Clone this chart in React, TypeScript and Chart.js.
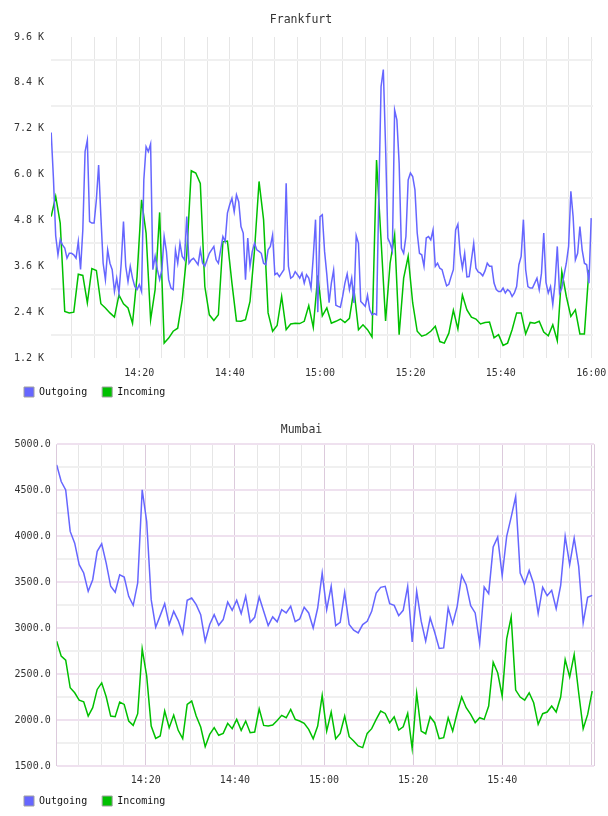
import React, { useEffect, useRef } from 'react';
import { Chart, registerables } from 'chart.js';

Chart.register(...registerables);

const FONT_FAMILY = "'DejaVu Sans Mono', monospace";
const BLUE = '#6666ff';
const GREEN = '#00c000';

// ---------- Frankfurt (minutes after 14:00) ----------
const frankfurtTitle = 'Frankfurt';
const frankfurtStartMin = 0.5;
const frankfurtOutgoingStepMin = 0.5;
const frankfurtIncomingStepMin = 1;
const frankfurtOutgoing = [
  7100, 5900, 4400, 3900, 4300, 4160, 4080, 3810, 3940, 3940,
  3900, 3810, 4250, 3520, 4550, 6600, 6900, 4770, 4730, 4730,
  5340, 6250, 4900, 3680, 3250, 4030, 3680, 3510, 2940, 3290,
  2900, 3680, 4770, 3600, 3200, 3600, 3290, 3070, 2990, 3120,
  2940, 5860, 6730, 6600, 6800, 3510, 3860, 3510, 3250, 3510,
  4380, 3990, 3250, 3030, 2990, 4030, 3680, 4200, 3860, 3770,
  4900, 3680, 3770, 3810, 3730, 3640, 4030, 3680, 3600, 3770,
  3940, 4030, 4120, 3770, 3680, 4030, 4380, 4250, 4990, 5210,
  5380, 5030, 5470, 5290, 4640, 4470, 3250, 4340, 3600, 3990,
  4200, 4030, 3990, 3940, 3680, 3640, 4030, 4120, 4420, 3380,
  3420, 3330, 3420, 3510, 5770, 3600, 3290, 3330, 3460, 3380,
  3290, 3420, 3160, 3380, 3290, 3030, 3860, 4820, 2400, 4900,
  4950, 3990, 3380, 2650, 3160, 3500, 2580, 2550, 2530, 2810,
  3160, 3400, 2990, 3290, 2640, 4400, 4200, 2680, 2620, 2550,
  2840, 2460, 2330, 2360, 2330, 5430, 8300, 8750, 6730, 4340,
  4200, 4000, 7690, 7430, 6300, 4070, 3940, 4380, 5860, 6040,
  5950, 5600, 4470, 3940, 3900, 3600, 4340, 4380, 4290, 4550,
  3600, 3680, 3550, 3510, 3290, 3090, 3130, 3330, 3510, 4550,
  4700, 3940, 3550, 3940, 3320, 3330, 3770, 4200, 3550, 3450,
  3420, 3350, 3480, 3680, 3600, 3600, 3160, 2990, 2940, 2940,
  3030, 2900, 2990, 2940, 2810, 2900, 3070, 3640, 3860, 4820,
  3510, 3070, 3030, 3030, 3160, 3290, 2990, 3420, 4470, 3180,
  2900, 3070, 2600, 3160, 4120, 2900, 3030, 3380, 3680, 4120,
  5560, 4900, 3770, 3940, 4640, 4030, 3680, 3640, 3160, 4860,
];
const frankfurtIncoming = [
  4900, 5430, 4730, 2420, 2380, 2400, 3390, 3360, 2640, 3540,
  3490, 2620, 2510, 2380, 2270, 2850, 2620, 2510, 2110, 3330,
  5340, 4470, 2200, 2990, 5010, 1590, 1720, 1900, 1980, 2720,
  3900, 6100, 6040, 5770, 3070, 2330, 2180, 2330, 4240, 4260,
  3160, 2170, 2160, 2200, 2680, 4030, 5820, 4820, 2380, 1900,
  2050, 2810, 1940, 2090, 2110, 2100, 2160, 2570, 2000, 3360,
  2300, 2510, 2110, 2160, 2220, 2130, 2240, 2990, 1940, 2070,
  1940, 1750, 6380, 4290, 2170, 3680, 4420, 1810, 3290, 3860,
  2640, 1900, 1770, 1810, 1900, 2030, 1630, 1590, 1850, 2450,
  1960, 2850, 2460, 2270, 2220, 2090, 2130, 2140, 1730, 1810,
  1530, 1590, 1940, 2380, 2380, 1830, 2130, 2110, 2160, 1880,
  1780, 2070, 1650, 3460, 2810, 2290, 2460, 1830, 1830, 3510,
];
const frankfurtXLabels = ['14:20', '14:40', '15:00', '15:20', '15:40', '16:00'];
const frankfurtYLabelValues = [1200, 2400, 3600, 4800, 6000, 7200, 8400, 9600];

// ---------- Mumbai ----------
const mumbaiTitle = 'Mumbai';
const mumbaiStartMin = 0;
const mumbaiStepMin = 1.01;
const mumbaiOutgoing = [
  4776, 4595, 4504, 4052, 3925, 3690, 3600, 3400, 3527, 3835,
  3918, 3708, 3455, 3390, 3581, 3556, 3346, 3248, 3491, 4504,
  4160, 3310, 3010, 3136, 3266, 3039, 3183, 3082, 2941, 3303,
  3328, 3256, 3147, 2858, 3039, 3147, 3031, 3093, 3284, 3194,
  3303, 3158, 3346, 3064, 3118, 3339, 3183, 3028, 3122, 3068,
  3201, 3165, 3237, 3071, 3100, 3227, 3165, 3002, 3219, 3600,
  3201, 3455, 3028, 3064, 3390, 3039, 2977, 2948, 3039, 3075,
  3183, 3382, 3444, 3455, 3266, 3248, 3136, 3194, 3455, 2850,
  3400, 3075, 2858, 3111, 2955, 2778, 2785, 3219, 3046, 3237,
  3574, 3473, 3245, 3165, 2832, 3447, 3375, 3882, 3990, 3570,
  3998, 4207, 4432, 3600, 3484, 3628, 3484, 3158, 3444, 3353,
  3411, 3212, 3466, 3998, 3690, 3979, 3672, 3057, 3335, 3357,
];
const mumbaiIncoming = [
  2858, 2695, 2651, 2351, 2297, 2217, 2199, 2043, 2134, 2333,
  2405, 2253, 2043, 2036, 2196, 2170, 1989, 1942, 2069, 2774,
  2478, 1935, 1801, 1826, 2098, 1917, 2054, 1888, 1797, 2170,
  2206, 2043, 1924, 1710, 1844, 1917, 1834, 1855, 1964, 1906,
  2007, 1888, 1989, 1862, 1870, 2123, 1942, 1935, 1946, 1996,
  2051, 2025, 2116, 2007, 1989, 1964, 1899, 1797, 1935, 2268,
  1880, 2087, 1797, 1855, 2043, 1819, 1772, 1718, 1700, 1855,
  1906, 2007, 2098, 2072, 1971, 2036, 1891, 1927, 2072, 1689,
  2289, 1880, 1851, 2036, 1971, 1797, 1808, 2025, 1880, 2079,
  2250, 2134, 2061, 1971, 2025, 2007, 2152, 2630, 2514, 2260,
  2883, 3122, 2326, 2250, 2217, 2297, 2188, 1953, 2069, 2087,
  2152, 2087, 2250, 2659, 2470, 2713, 2297, 1906, 2061, 2315,
];
const mumbaiXLabels = ['14:20', '14:40', '15:00', '15:20', '15:40'];
const mumbaiYLabelValues = [1500, 2000, 2500, 3000, 3500, 4000, 4500, 5000];

const seriesNames = ['Outgoing', 'Incoming'];

function toClock(min: number): string {
  const total = Math.round(min);
  const h = 14 + Math.floor(total / 60);
  const m = total % 60;
  return `${h}:${m < 10 ? '0' + m : m}`;
}

function toPoints(values: number[], start: number, step: number) {
  return values.map((v, i) => ({ x: start + i * step, y: v }));
}

// Moves the legend up so it sits just under the tick labels (as in the reference)
const legendShiftPlugin = {
  id: 'legendShift',
  afterLayout(chart: any, _args: any, opts: any) {
    const dy = (opts && opts.dy) || 0;
    if (chart.legend && dy) {
      chart.legend.top -= dy;
      chart.legend.bottom -= dy;
    }
  },
};

interface ChartSpec {
  title: string;
  titlePad: { top: number; bottom: number };
  outgoing: { x: number; y: number }[];
  incoming: { x: number; y: number }[];
  xMin: number;
  xMax: number;
  xGridValues: number[];
  xLabels: string[];
  xGridColor: (v: number) => string;
  xAxisHeight: number;
  xTickPad: number;
  yMin: number;
  yMax: number;
  yStep: number;
  yLabelValues: number[];
  yFormat: (v: number) => string;
  yGridColor: (v: number) => string | null;
  yWidth: number;
  yTickPad: number;
  padRight: number;
  padBottom: number;
  legendDy: number;
}

function buildConfig(s: ChartSpec): any {
  const font = { family: FONT_FAMILY, size: 10 };
  return {
    type: 'line',
    plugins: [legendShiftPlugin],
    data: {
      datasets: [
        {
          label: seriesNames[0],
          data: s.outgoing,
          borderColor: BLUE,
          backgroundColor: BLUE,
          borderWidth: 1.5,
          pointRadius: 0,
          tension: 0,
          fill: false,
        },
        {
          label: seriesNames[1],
          data: s.incoming,
          borderColor: GREEN,
          backgroundColor: GREEN,
          borderWidth: 1.5,
          pointRadius: 0,
          tension: 0,
          fill: false,
        },
      ],
    },
    options: {
      animation: false,
      responsive: false,
      devicePixelRatio: 1,
      layout: { padding: { left: 9, right: s.padRight, top: 0, bottom: s.padBottom } },
      plugins: {
        tooltip: { enabled: false },
        legendShift: { dy: s.legendDy },
        title: {
          display: true,
          text: s.title,
          color: '#333333',
          font: { family: FONT_FAMILY, size: 11.5, weight: 'normal' },
          padding: s.titlePad,
        },
        legend: {
          display: true,
          position: 'bottom',
          align: 'start',
          labels: {
            boxWidth: 10,
            boxHeight: 10,
            padding: 15,
            color: '#111111',
            font,
            generateLabels: (chart: any) =>
              Chart.defaults.plugins.legend.labels
                .generateLabels(chart)
                .map((it: any) => ({ ...it, strokeStyle: '#a0a0a0', lineWidth: 1 })),
          },
        },
      },
      scales: {
        x: {
          type: 'linear',
          min: s.xMin,
          max: s.xMax,
          afterBuildTicks: (scale: any) => {
            scale.ticks = s.xGridValues.map((v) => ({ value: v }));
          },
          afterFit: (scale: any) => {
            scale.paddingLeft = 0;
            scale.paddingRight = 0;
            scale.height = s.xAxisHeight;
          },
          ticks: {
            autoSkip: false,
            maxRotation: 0,
            padding: s.xTickPad,
            color: '#333333',
            font,
            callback: (v: any) => {
              const lbl = toClock(Number(v));
              return Math.abs(Number(v) - Math.round(Number(v))) < 1e-6 && s.xLabels.includes(lbl) ? lbl : '';
            },
          },
          grid: {
            drawTicks: false,
            lineWidth: 1,
            color: (ctx: any) => s.xGridColor(ctx.tick ? ctx.tick.value : 0),
          },
          border: { display: false },
        },
        y: {
          type: 'linear',
          min: s.yMin,
          max: s.yMax,
          afterBuildTicks: (scale: any) => {
            const t: { value: number }[] = [];
            for (let v = s.yMin; v <= s.yMax + 1e-6; v += s.yStep) t.push({ value: v });
            scale.ticks = t;
          },
          afterFit: (scale: any) => {
            scale.width = s.yWidth;
            scale.paddingTop = 0;
            scale.paddingBottom = 0;
          },
          ticks: {
            autoSkip: false,
            padding: s.yTickPad,
            color: '#333333',
            font,
            callback: (v: any) => (s.yLabelValues.includes(Number(v)) ? s.yFormat(Number(v)) : ''),
          },
          grid: {
            drawTicks: false,
            lineWidth: (ctx: any) => (s.yGridColor(ctx.tick ? ctx.tick.value : 0) ? 2 : 0),
            color: (ctx: any) => s.yGridColor(ctx.tick ? ctx.tick.value : 0) || 'rgba(0,0,0,0)',
          },
          border: { display: false },
        },
      },
    },
  };
}

function LineChart({ width, height, spec }: { width: number; height: number; spec: ChartSpec }) {
  const ref = useRef<HTMLCanvasElement | null>(null);
  useEffect(() => {
    if (!ref.current) return;
    const chart = new Chart(ref.current, buildConfig(spec));
    return () => chart.destroy();
  }, [spec]);
  return <canvas ref={ref} width={width} height={height} style={{ display: 'block', width, height }} />;
}

const fiveMinTicks = (from: number, to: number) => {
  const out: number[] = [];
  for (let m = from; m <= to; m += 5) out.push(m);
  return out;
};

const frankfurtSpec: ChartSpec = {
  title: frankfurtTitle,
  titlePad: { top: 13.1, bottom: 10.1 },
  outgoing: toPoints(frankfurtOutgoing, frankfurtStartMin, frankfurtOutgoingStepMin),
  incoming: toPoints(frankfurtIncoming, frankfurtStartMin, frankfurtIncomingStepMin),
  xMin: 0.46,
  xMax: 120.4,
  xGridValues: fiveMinTicks(5, 120),
  xLabels: frankfurtXLabels,
  xGridColor: () => '#e6e6e6',
  xAxisHeight: 22,
  xTickPad: 9,
  yMin: 1200,
  yMax: 9600,
  yStep: 600,
  yLabelValues: frankfurtYLabelValues,
  yFormat: (v) => (v / 1000).toFixed(1) + ' K',
  yGridColor: (v) => (Math.round(v) % 1200 === 600 ? '#f0f0f0' : null),
  yWidth: 42,
  yTickPad: 7,
  padRight: 15,
  padBottom: -8,
  legendDy: 8,
};

const mumbaiXMax = 120.6;
const mumbaiSpec: ChartSpec = {
  title: mumbaiTitle,
  titlePad: { top: 16.1, bottom: 7.4 },
  outgoing: toPoints(mumbaiOutgoing, mumbaiStartMin, mumbaiStepMin),
  incoming: toPoints(mumbaiIncoming, mumbaiStartMin, mumbaiStepMin),
  xMin: 0,
  xMax: mumbaiXMax,
  xGridValues: [...fiveMinTicks(0, 120), mumbaiXMax],
  xLabels: mumbaiXLabels,
  xGridColor: (v) =>
    (Math.round(v) % 20 === 0 && Math.abs(v - Math.round(v)) < 1e-6) || v === mumbaiXMax ? '#dccadc' : '#e6e6e6',
  xAxisHeight: 22,
  xTickPad: 8,
  yMin: 1500,
  yMax: 5000,
  yStep: 250,
  yLabelValues: mumbaiYLabelValues,
  yFormat: (v) => v.toFixed(1),
  yGridColor: (v) => (Math.round(v) % 500 === 0 ? '#efe1ef' : '#f0f0f0'),
  yWidth: 47.7,
  yTickPad: 6,
  padRight: 14,
  padBottom: -7,
  legendDy: 7,
};

export default function App() {
  return (
    <div style={{ position: 'absolute', left: 0, top: 0, width: 608, height: 816, background: '#ffffff' }}>
      <LineChart width={608} height={407} spec={frankfurtSpec} />
      <LineChart width={608} height={409} spec={mumbaiSpec} />
    </div>
  );
}
